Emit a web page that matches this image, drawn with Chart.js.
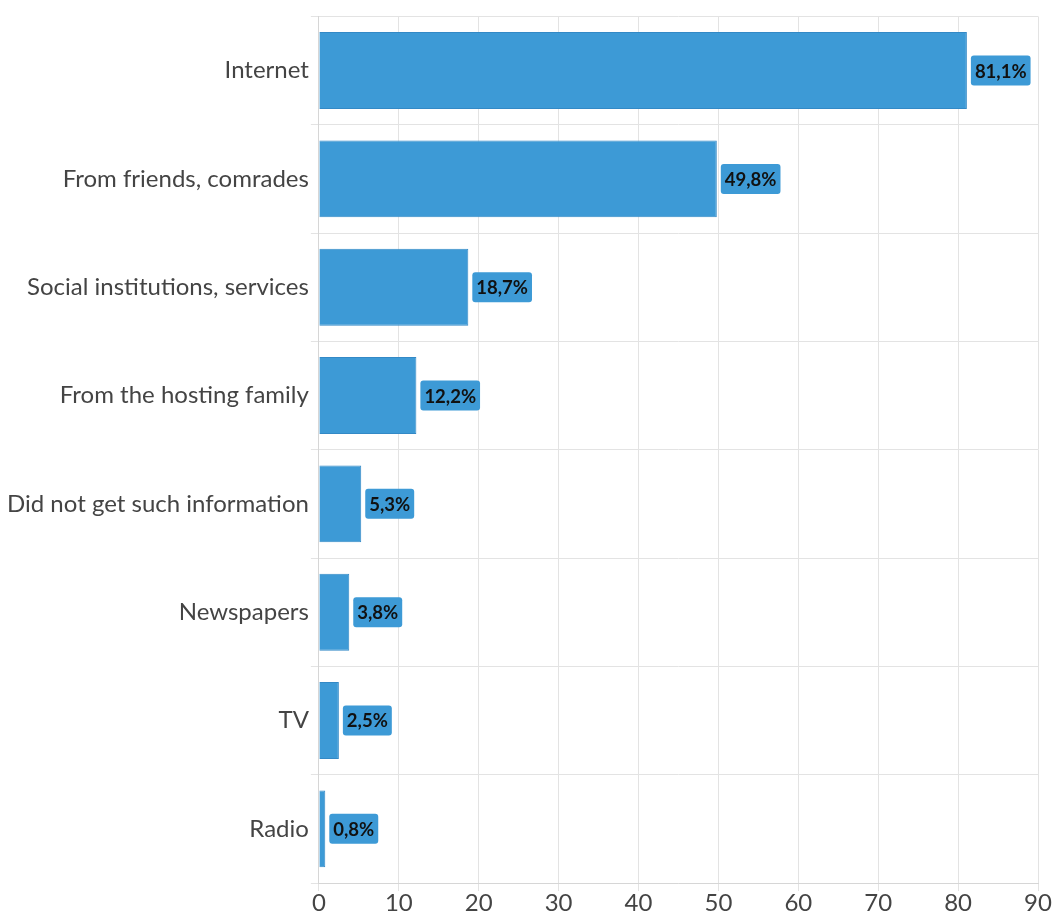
<!DOCTYPE html>
<html>
<head>
<meta charset="utf-8">
<script src="https://cdn.jsdelivr.net/npm/chart.js@4"></script>
<style>
  html, body { margin: 0; padding: 0; background: #fff; }
  #wrap { width: 1055px; height: 915px; }
</style>
</head>
<body>
<div id="wrap"><canvas id="chart" width="1055" height="915"></canvas></div>
<script>
// sources of information, share of respondents (%)
const sources = [
  "Internet",
  "From friends, comrades",
  "Social institutions, services",
  "From the hosting family",
  "Did not get such information",
  "Newspapers",
  "TV",
  "Radio"
];
const shares = [81.1, 49.8, 18.7, 12.2, 5.3, 3.8, 2.5, 0.8];
const xTicks = [0, 10, 20, 30, 40, 50, 60, 70, 80, 90];

const barBlue = "#3d9ad6";

// value tags drawn just past the end of each bar
const valueTags = {
  id: "valueTags",
  afterDatasetsDraw(chart) {
    const ctx = chart.ctx;
    const meta = chart.getDatasetMeta(0);
    ctx.save();
    ctx.font = "bold 18.5px Lato";
    ctx.textBaseline = "middle";
    meta.data.forEach((bar, i) => {
      const text = shares[i].toFixed(1).replace(".", ",") + "%";
      const w = ctx.measureText(text).width + 8;
      const h = 30;
      const x = bar.x + 4;
      const y = bar.y - h / 2;
      ctx.fillStyle = barBlue;
      ctx.beginPath();
      ctx.roundRect(x, y, w, h, 3);
      ctx.fill();
      ctx.fillStyle = "#111";
      ctx.textAlign = "left";
      ctx.fillText(text, x + 4, bar.y + 1);
    });
    ctx.restore();
  }
};

const ctx = document.getElementById("chart").getContext("2d");
new Chart(ctx, {
  type: "bar",
  data: {
    labels: sources,
    datasets: [{
      data: shares,
      backgroundColor: barBlue,
      borderColor: "#3389c6",
      borderWidth: 1,
      barPercentage: 0.71,
      categoryPercentage: 1
    }]
  },
  options: {
    indexAxis: "y",
    responsive: false,
    animation: false,
    layout: { padding: { top: 15, right: 17, left: 5, bottom: 0 } },
    plugins: {
      legend: { display: false },
      tooltip: { enabled: false }
    },
    scales: {
      x: {
        min: 0,
        max: 90,
        afterBuildTicks: axis => { axis.ticks = xTicks.map(v => ({ value: v })); },
        grid: { color: "#e3e3e3", tickLength: 8 },
        border: { color: "#d6d6d6" },
        ticks: { font: { family: "Lato", size: 24, lineHeight: 1 }, color: "#444", padding: 0 }
      },
      y: {
        grid: { color: "#e3e3e3", offset: true, tickLength: 8 },
        border: { color: "#d6d6d6" },
        ticks: { font: { family: "Lato", size: 24 }, color: "#444", padding: 2 }
      }
    }
  },
  plugins: [valueTags]
});
</script>
</body>
</html>
